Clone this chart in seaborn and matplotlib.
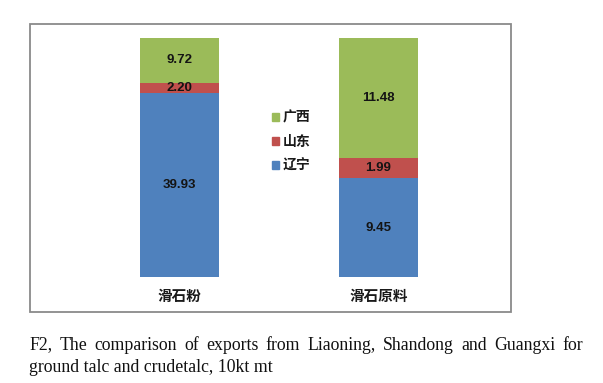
import matplotlib
matplotlib.use('Agg')
import matplotlib.pyplot as plt
import seaborn as sns
import pandas as pd
import numpy as np
from matplotlib.patches import Rectangle, Patch

sns.set_style('white')
plt.rcParams['font.family'] = ['Noto Sans CJK SC', 'DejaVu Sans']

# 数据 (万吨)
categories = ['滑石粉', '滑石原料']
liaoning = [39.93, 9.45]
shandong = [2.20, 1.99]
guangxi = [9.72, 11.48]
series_names = ['辽宁', '山东', '广西']
colors = ['#4F81BD', '#C0504D', '#9BBB59']
caption_lines = ['F2, The comparison of exports from Liaoning, Shandong and Guangxi for',
                 'ground talc and crudetalc, 10kt mt']

df = pd.DataFrame({'cat': categories, '辽宁': liaoning, '山东': shandong, '广西': guangxi})
total = df[series_names].sum(axis=1)
# 百分比堆积
share = df[series_names].div(total, axis=0)
cum = share.cumsum(axis=1)

W, H = 603, 383
fig = plt.figure(figsize=(W / 100, H / 100), dpi=100)

# 图表外框
fig.patches.append(Rectangle((30 / W, 1 - 312 / H), 481 / W, 288 / H,
                             transform=fig.transFigure, fill=False,
                             edgecolor='#8a8a8a', linewidth=1.3))

ax = fig.add_axes([80.5 / W, 1 - 277 / H, 397 / W, 239 / H])

# 从上往下画，覆盖形成堆积
for name, col in zip(series_names[::-1], colors[::-1]):
    sns.barplot(x=df['cat'], y=cum[name], color=col, width=0.4, ax=ax,
                saturation=1, edgecolor='none')

# 数值标签
for i in range(len(categories)):
    lower = 0
    for name in series_names:
        val = df.loc[i, name]
        h = share.loc[i, name]
        ax.text(i, lower + h / 2, f'{val:.2f}', ha='center', va='center',
                fontsize=9.5, fontweight='bold', color='#141414',
                family=['Liberation Sans', 'DejaVu Sans'])
        lower += h

ax.set_xlim(-0.5, 1.5)
ax.set_ylim(0, 1)
ax.set_xlabel('')
ax.set_ylabel('')
ax.set_yticks([])
ax.tick_params(axis='x', length=0, pad=8)
for lab in ax.get_xticklabels():
    lab.set_fontsize(10.5)
    lab.set_fontweight('bold')
    lab.set_color('#1a1a1a')
sns.despine(ax=ax, left=True, bottom=True)
ax.patch.set_alpha(0)

handles = [Patch(color=c, label=n) for n, c in zip(series_names, colors)][::-1]
leg = ax.legend(handles=handles, loc='center left',
                bbox_to_anchor=(272 / W, 1 - 141.5 / H), bbox_transform=fig.transFigure,
                frameon=False, borderpad=0, borderaxespad=0,
                handlelength=0.5, handleheight=0.5, handletextpad=0.25,
                labelspacing=0.72, prop={'size': 10, 'weight': 'bold'})
for t in leg.get_texts():
    t.set_color('#1a1a1a')

# 图注（两端对齐）
fig.canvas.draw()
renderer = fig.canvas.get_renderer()
probe = fig.text(0, 0, caption_lines[1], family='Liberation Serif', fontsize=10)
cap_size = 10 * 244 / probe.get_window_extent(renderer).width
probe.remove()
cap_font = dict(family='Liberation Serif', fontsize=cap_size, color='#111111')

x0, x1 = 29, 583
y_lines = [345, 367]
for li, line in enumerate(caption_lines):
    y = 1 - y_lines[li] / H
    if li == 0:
        words = line.split(' ')
        objs = [fig.text(0, y, w, va='center', ha='left', **cap_font) for w in words]
        widths = [o.get_window_extent(renderer).width for o in objs]
        gap = (x1 - x0 - sum(widths)) / (len(words) - 1)
        x = x0
        for o, w in zip(objs, widths):
            o.set_x(x / W)
            x += w + gap
    else:
        fig.text(x0 / W, y, line, va='center', ha='left', **cap_font)

fig.savefig('out.png', dpi=100)
